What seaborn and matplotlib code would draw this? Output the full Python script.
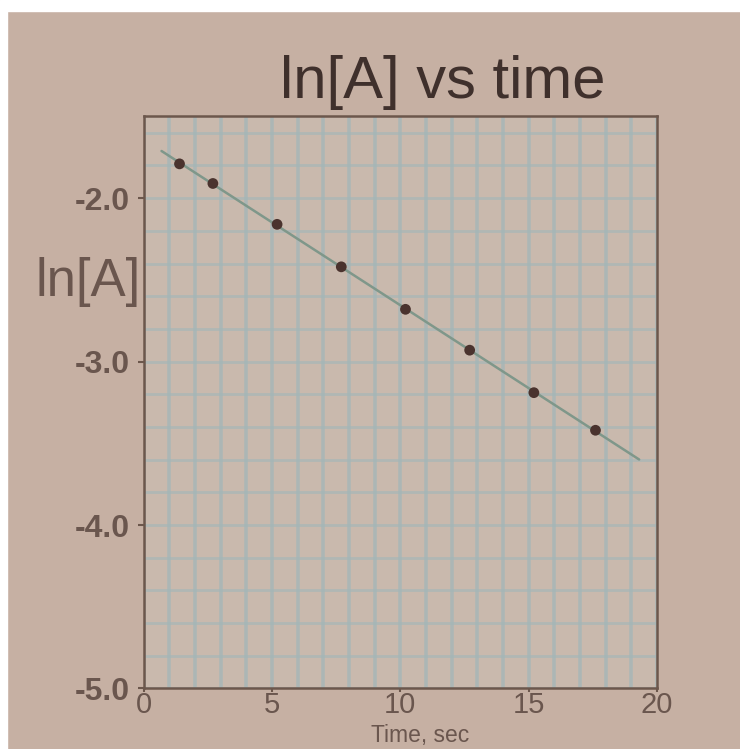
"""
ln[A] vs time -- first-order kinetics plot, redrawn from a photo of a printout.
"""

import matplotlib
matplotlib.use("Agg")
import numpy as np
import pandas as pd
import matplotlib.pyplot as plt
import matplotlib.patches as mpatches
import seaborn as sns

# ── Data ──────────────────────────────────────────────────────────────────────
time_sec = [1.4, 2.7, 5.2, 7.7, 10.2, 12.7, 15.2, 17.6]
ln_a = [-1.79, -1.91, -2.16, -2.42, -2.68, -2.93, -3.19, -3.42]

fit_span = [0.7, 19.3]          # where the printed trend line starts / stops

xticks = [0, 5, 10, 15, 20]
xtick_labels = ["0", "5", "10", "15", "20"]
yticks = [-2.0, -3.0, -4.0, -5.0]
ytick_labels = ["-2.0", "-3.0", "-4.0", "-5.0"]

# ── Colours (photo of paper) ──────────────────────────────────────────────────
PAPER = "#c6b0a3"
CELL = "#c9b9ad"
GRID = "#a3b6b8"
FRAME = "#6c574c"
INK = "#3f302c"
LABEL_INK = "#6a564e"
DOT = "#4a332e"
TREND = "#7f978a"

sns.set_theme(style="ticks")
plt.rcParams["font.family"] = ["Liberation Sans", "DejaVu Sans"]

df = pd.DataFrame({"time": time_sec, "ln_a": ln_a})

# least-squares trend line over the printed span
slope, intercept = np.polyfit(df["time"], df["ln_a"], 1)
fit = pd.DataFrame({"time": fit_span})
fit["ln_a"] = slope * fit["time"] + intercept

fig = plt.figure(figsize=(7.40, 7.49), dpi=100, facecolor=PAPER)
ax = fig.add_axes([0.194, 0.0808, 0.694, 0.7637])
ax.set_facecolor(CELL)

# white strips from the photo edge
fig.patches.append(mpatches.Rectangle((0, 0), 7 / 740, 1, transform=fig.transFigure,
                                      color="white", zorder=0))
fig.patches.append(mpatches.Rectangle((0, 1 - 11 / 749), 1, 11 / 749,
                                      transform=fig.transFigure, color="white", zorder=0))

sns.lineplot(data=fit, x="time", y="ln_a", ax=ax, color=TREND, linewidth=1.8, zorder=3)
sns.scatterplot(data=df, x="time", y="ln_a", ax=ax, color=DOT, s=60,
                edgecolor="none", zorder=4)

ax.set_xlim(0, 20)
ax.set_ylim(-5.0, -1.5)

ax.set_xticks(xticks)
ax.set_xticklabels(xtick_labels)
ax.set_xticks(np.arange(0, 21, 1), minor=True)
ax.set_yticks(yticks)
ax.set_yticklabels(ytick_labels)
ax.set_yticks(np.arange(-5.0, -1.49, 0.2), minor=True)

ax.xaxis.grid(True, which="both", color=GRID, linewidth=2.6, alpha=0.75)
ax.yaxis.grid(True, which="both", color=GRID, linewidth=2.0, alpha=0.65)
ax.set_axisbelow(True)

ax.tick_params(axis="x", which="major", length=3, width=1.5, color=FRAME, pad=-1,
               labelsize=21, labelcolor=LABEL_INK)
ax.tick_params(axis="y", which="major", length=4, width=1.5, color=FRAME, pad=6,
               labelsize=23, labelcolor=LABEL_INK)
ax.tick_params(which="minor", length=0)
for lab in ax.get_yticklabels():
    lab.set_fontweight("bold")

for side in ax.spines.values():
    side.set_color(FRAME)
    side.set_linewidth(1.8)

ax.set_ylabel("ln[A]", rotation=0, ha="right", va="center", fontsize=38, color=LABEL_INK)
ax.yaxis.set_label_coords(-0.005, 0.711)
ax.set_xlabel("Time, sec", fontsize=16.5, color=LABEL_INK, va="top")
ax.xaxis.set_label_coords(0.538, -0.0615)

fig.text(443 / 740, 1 - 98 / 749, "ln[A] vs time", ha="center", va="baseline",
         fontsize=43, color=INK)

fig.savefig("out.png", dpi=100, facecolor=fig.get_facecolor())
plt.close(fig)
